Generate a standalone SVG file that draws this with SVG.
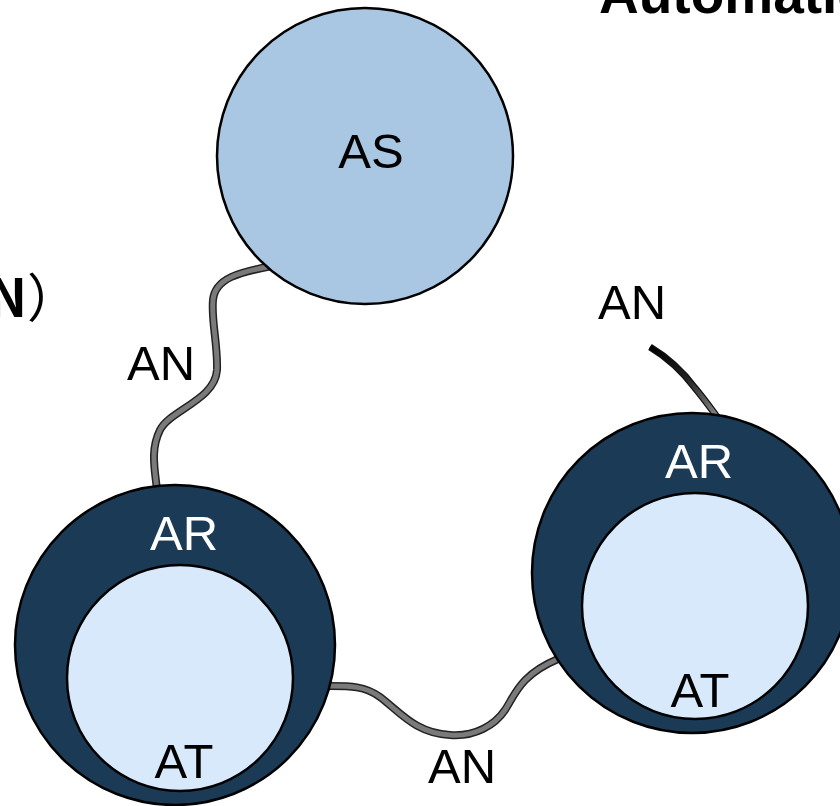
<svg xmlns="http://www.w3.org/2000/svg" width="840" height="806" viewBox="0 0 840 806">
<style>
  .lbl{font-family:"Liberation Sans",Arial,sans-serif;font-size:49px;text-anchor:middle;fill:#000}
  .wlbl{font-family:"Liberation Sans",Arial,sans-serif;font-size:49px;text-anchor:middle;fill:#fff}
  .ring{stroke:#000;stroke-width:2.5}
  .outer{fill:#1b3a55}
  .inner{fill:#d7e9fb}
  .as{fill:#a9c7e2}
  .edge-o{fill:none;stroke:#222;stroke-width:8;stroke-linecap:butt}
  .edge-i{fill:none;stroke:#7a7a7a;stroke-width:5;stroke-linecap:butt}
</style>
<defs>
  <linearGradient id="fade" x1="650" y1="347" x2="717" y2="417" gradientUnits="userSpaceOnUse">
    <stop offset="0" stop-color="#000"/>
    <stop offset="0.5" stop-color="#222"/>
    <stop offset="1" stop-color="#888"/>
  </linearGradient>
</defs>
<rect width="840" height="806" fill="#fff"/>
<text x="599" y="13" style="font-family:'Liberation Sans',Arial,sans-serif;font-size:55px;font-weight:bold">Automation</text>
<text x="-12" y="317" style="font-family:'Noto Sans CJK SC',sans-serif;font-size:52px;font-weight:bold">N<tspan style="font-weight:normal">）</tspan></text>
<g id="connectors">
  <path class="edge-o" d="M272,266 C240,272 215,278 213,300 C211,320 218,345 217,370 C215,400 170,410 160,430 C150,450 155,470 157,490"/>
  <path class="edge-i" d="M272,266 C240,272 215,278 213,300 C211,320 218,345 217,370 C215,400 170,410 160,430 C150,450 155,470 157,490"/>
  <path class="edge-o" d="M330,686 C350,686 365,686 380,697 C400,712 415,733 450,735 C475,737 495,725 505,710 C515,695 520,675 558,659"/>
  <path class="edge-i" d="M330,686 C350,686 365,686 380,697 C400,712 415,733 450,735 C475,737 495,725 505,710 C515,695 520,675 558,659"/>
  <path d="M650,347 C665,356 680,368 695,388 C705,400 712,410 718,418" fill="none" stroke="#111" stroke-width="7"/>
  <path d="M650,347 C665,356 680,368 695,388 C705,400 712,410 718,418" fill="none" stroke="url(#fade)" stroke-width="4.5"/>
</g>
<g id="AS">
  <circle class="ring as" cx="365" cy="156" r="148"/>
  <text class="lbl" x="371" y="168">AS</text>
</g>
<g id="node-left">
  <circle class="ring outer" cx="175" cy="645" r="160"/>
  <circle class="ring inner" cx="180" cy="678" r="113"/>
  <text class="wlbl" x="184" y="550">AR</text>
  <text class="lbl" x="184" y="778">AT</text>
</g>
<g id="node-right">
  <circle class="ring outer" cx="692" cy="573" r="160"/>
  <circle class="ring inner" cx="695" cy="606" r="113"/>
  <text class="wlbl" x="699" y="478">AR</text>
  <text class="lbl" x="700" y="707">AT</text>
</g>
<text class="lbl" x="161" y="380">AN</text>
<text class="lbl" x="462" y="783">AN</text>
<text class="lbl" x="632" y="319">AN</text>
</svg>
